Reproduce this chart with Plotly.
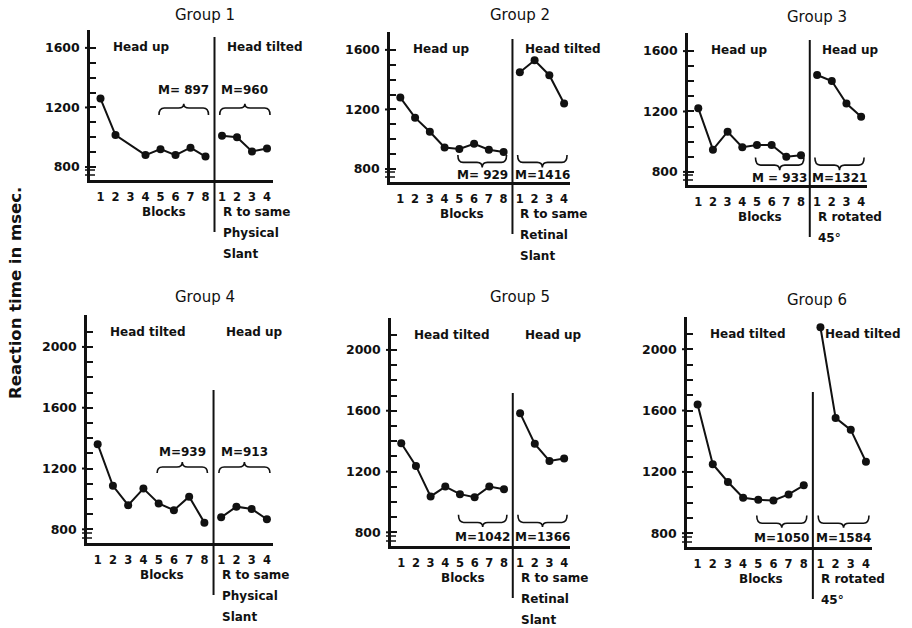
import plotly.graph_objects as go

# ---------------- data ----------------
groups = ["Group 1", "Group 2", "Group 3", "Group 4", "Group 5", "Group 6"]
block_labels = ["1", "2", "3", "4", "5", "6", "7", "8"]
test_labels = ["1", "2", "3", "4"]

g1_blocks = [1260, 1015, None, 880, 920, 880, 930, 870]
g1_test = [1010, 1000, 905, 925]
g2_blocks = [1280, 1145, 1050, 945, 935, 970, 930, 915]
g2_test = [1450, 1530, 1430, 1240]
g3_blocks = [1222, 947, 1066, 963, 978, 978, 900, 910]
g3_test = [1442, 1402, 1253, 1165]
g4_blocks = [1360, 1086, 959, 1068, 970, 926, 1015, 844]
g4_test = [879, 949, 934, 866]
g5_blocks = [1386, 1237, 1036, 1101, 1051, 1031, 1101, 1084]
g5_test = [1584, 1382, 1270, 1286]
g6_blocks = [1639, 1250, 1134, 1031, 1018, 1013, 1053, 1112]
g6_test = [2143, 1552, 1474, 1266]

mean_blocks = ["M= 897", "M= 929", "M = 933", "M=939", "M=1042", "M=1050"]
mean_test = ["M=960", "M=1416", "M=1321", "M=913", "M=1366", "M=1584"]

head_left = ["Head up", "Head up", "Head up", "Head tilted", "Head tilted", "Head tilted"]
head_right = ["Head tilted", "Head tilted", "Head up", "Head up", "Head up", "Head tilted"]
cond_text = [
    ["R to same", "Physical", "Slant"],
    ["R to same", "Retinal", "Slant"],
    ["R rotated", "45°"],
    ["R to same", "Physical", "Slant"],
    ["R to same", "Retinal", "Slant"],
    ["R rotated", "45°"],
]
y_title = "Reaction time in msec."
x_title = "Blocks"

blocks_all = [g1_blocks, g2_blocks, g3_blocks, g4_blocks, g5_blocks, g6_blocks]
tests_all = [g1_test, g2_test, g3_test, g4_test, g5_test, g6_test]

# ---------------- layout helpers ----------------
W, H = 912, 628


def fx(p):
    return p / W


def fy(p):
    return 1 - p / H


# panel pixel boxes: axis left, axis right, axis top, axis bottom, title centre x, title y
panels = [
    dict(x0=90, x1=273, y0=30, y1=180, tx=205, ty=15, top=True),
    dict(x0=390, x1=570, y0=32, y1=182, tx=520, ty=15, top=True),
    dict(x0=688, x1=867, y0=33, y1=185, tx=817, ty=17, top=True),
    dict(x0=87, x1=273, y0=315, y1=543, tx=205, ty=297, top=False),
    dict(x0=391, x1=570, y0=318, y1=546, tx=520, ty=297, top=False),
    dict(x0=687, x1=872, y0=317, y1=547, tx=817, ty=300, top=False),
]
brace_above = [True, False, False, True, False, False]

block_x = [1, 2, 3, 4, 5, 6, 7, 8]
test_x = [9.1, 10.1, 11.1, 12.1]
divider_x = 8.6
x_range = [0.3, 12.5]

FONT = "DejaVu Sans"
black = "#111111"
TXT = dict(family=FONT, size=12, color=black, weight="bold")

fig = go.Figure()
shapes = []
annotations = []


def brace_path(x0, x1, yt, yf, yc, dx=0.35):
    xm = (x0 + x1) / 2
    return (f"M {x0},{yt} Q {x0},{yf} {x0+dx},{yf} L {xm-dx},{yf} "
            f"Q {xm},{yf} {xm},{yc} Q {xm},{yf} {xm+dx},{yf} "
            f"L {x1-dx},{yf} Q {x1},{yf} {x1},{yt}")


for i, p in enumerate(panels):
    n = i + 1
    xa = "x" if n == 1 else f"x{n}"
    ya = "y" if n == 1 else f"y{n}"
    xkey = "xaxis" if n == 1 else f"xaxis{n}"
    ykey = "yaxis" if n == 1 else f"yaxis{n}"

    if p["top"]:
        yr = [713, 1720]
        tv = list(range(800, 1700, 100))
        head_y = 1605
    else:
        yr = [710, 2210]
        tv = list(range(800, 2200, 100))
        head_y = 2100
    tt = [str(v) if v % 400 == 0 else "" for v in tv]

    fig.add_trace(go.Scatter(
        x=block_x, y=blocks_all[i], xaxis=xa, yaxis=ya, mode="lines+markers",
        connectgaps=True, line=dict(color=black, width=2),
        marker=dict(color=black, size=8), cliponaxis=False, hoverinfo="skip"))
    fig.add_trace(go.Scatter(
        x=test_x, y=tests_all[i], xaxis=xa, yaxis=ya, mode="lines+markers",
        line=dict(color=black, width=2),
        marker=dict(color=black, size=8), cliponaxis=False, hoverinfo="skip"))

    fig.layout[xkey] = dict(
        domain=[fx(p["x0"]), fx(p["x1"])], anchor=ya, range=x_range,
        showline=True, linecolor=black, linewidth=2.5, showgrid=False, zeroline=False,
        tickmode="array", tickvals=block_x + test_x, ticktext=block_labels + test_labels,
        ticks="", ticklabelstandoff=4,
        tickfont=dict(family=FONT, size=11.5, color=black, weight="bold"))
    fig.layout[ykey] = dict(
        domain=[fy(p["y1"]), fy(p["y0"])], anchor=xa, range=yr,
        showline=True, linecolor=black, linewidth=2.5, showgrid=False, zeroline=False,
        tickmode="array", tickvals=tv, ticktext=tt, ticks="inside", ticklen=6,
        tickwidth=2, tickcolor=black, ticklabelstandoff=5,
        tickfont=dict(family=FONT, size=12.5, color=black, weight="bold"))

    # major ticks cross the axis: add the outer part
    for v, t in zip(tv, tt):
        if t:
            shapes.append(dict(type="line", xref="paper", yref=ya,
                               x0=fx(p["x0"] - 5), x1=fx(p["x0"]), y0=v, y1=v,
                               line=dict(color=black, width=2)))

    # divider line
    top_px = p["y0"] + (7 if p["top"] else 75)
    shapes.append(dict(type="line", xref=xa, yref="paper", x0=divider_x, x1=divider_x,
                       y0=fy(top_px), y1=fy(p["y1"] + 52),
                       line=dict(color=black, width=2)))
    # axis break marks
    for off in (10, 5):
        shapes.append(dict(type="line", xref="paper", yref="paper",
                           x0=fx(p["x0"] - 5), x1=fx(p["x0"] + 5),
                           y0=fy(p["y1"] - off), y1=fy(p["y1"] - off),
                           line=dict(color=black, width=1.5)))

    # braces + means
    if brace_above[i]:
        if p["top"]:
            yt, yf, yc, ylab = 1150, 1196, 1225, 1315
        else:
            yt, yf, yc, ylab = 1170, 1210, 1243, 1309
    else:
        if p["top"]:
            yt, yf, yc, ylab = 895, 845, 810, 762
        else:
            yt, yf, yc, ylab = 915, 865, 835, 768
    for (bx0, bx1, lab) in ((4.9, 8.2, mean_blocks[i]), (8.95, 12.3, mean_test[i])):
        shapes.append(dict(type="path", xref=xa, yref=ya,
                           path=brace_path(bx0, bx1, yt, yf, yc),
                           line=dict(color=black, width=1.6)))
        annotations.append(dict(x=(bx0 + bx1) / 2, y=ylab, xref=xa, yref=ya, text=lab,
                                showarrow=False, xanchor="center", yanchor="middle",
                                font=TXT))

    # headers
    annotations.append(dict(x=1.7, y=head_y, xref=xa, yref=ya, text=head_left[i],
                            showarrow=False, xanchor="left", yanchor="middle", font=TXT))
    annotations.append(dict(x=9.3, y=head_y, xref=xa, yref=ya, text=head_right[i],
                            showarrow=False, xanchor="left", yanchor="middle", font=TXT))

    # labels under the axis
    base_px = p["y1"] + 32
    annotations.append(dict(x=5.2, y=fy(base_px), xref=xa, yref="paper", text=x_title,
                            showarrow=False, xanchor="center", yanchor="middle", font=TXT))
    for k, line in enumerate(cond_text[i]):
        annotations.append(dict(x=9.0, y=fy(base_px + 21 * k), xref=xa, yref="paper",
                                text=line, showarrow=False, xanchor="left", yanchor="middle",
                                font=TXT))

    # group title
    annotations.append(dict(x=fx(p["tx"]), y=fy(p["ty"]), xref="paper", yref="paper",
                            text=groups[i], showarrow=False, xanchor="center", yanchor="middle",
                            font=dict(family=FONT, size=15, color=black)))

annotations.append(dict(x=fx(16), y=fy(293), xref="paper", yref="paper", text=y_title,
                        textangle=-90, showarrow=False, xanchor="center", yanchor="middle",
                        font=dict(family=FONT, size=16.5, color=black, weight="bold")))

fig.update_layout(
    width=W, height=H, margin=dict(l=0, r=0, t=0, b=0),
    paper_bgcolor="white", plot_bgcolor="white", showlegend=False,
    shapes=shapes, annotations=annotations)

fig.write_html("out.html", config={"displayModeBar": False},
               post_script="document.body.style.margin='0';document.body.style.overflow='hidden';")
